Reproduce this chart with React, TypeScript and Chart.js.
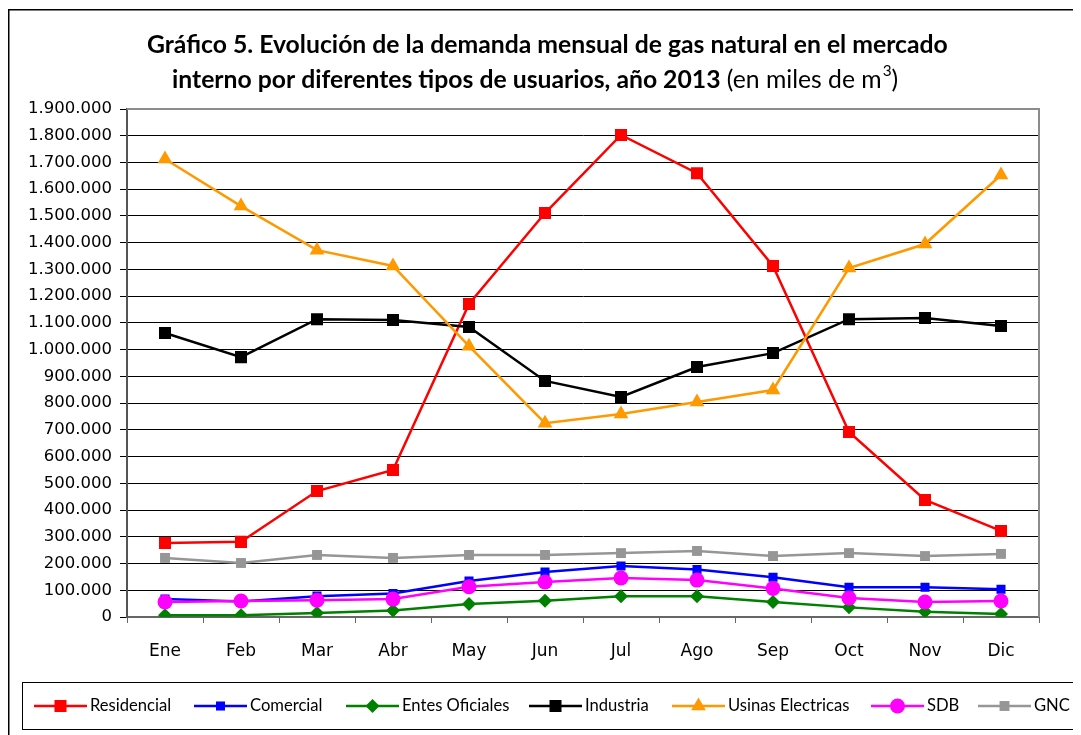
import React, { useEffect, useRef } from "react";
import { Chart, registerables } from "chart.js";

Chart.register(...registerables);

const months = ["Ene", "Feb", "Mar", "Abr", "May", "Jun", "Jul", "Ago", "Sep", "Oct", "Nov", "Dic"];

const residencial = [277000, 281000, 471000, 550000, 1171000, 1511000, 1803000, 1660000, 1313000, 692000, 438000, 322000];
const comercial = [67000, 58000, 78000, 88000, 135000, 168000, 191000, 178000, 149000, 111000, 111000, 104000];
const entesOficiales = [7000, 7000, 15000, 24000, 49000, 61000, 78000, 78000, 56000, 36000, 20000, 11000];
const industria = [1062000, 972000, 1114000, 1111000, 1085000, 883000, 823000, 935000, 987000, 1114000, 1118000, 1088000];
const usinasElectricas = [1713000, 1537000, 1372000, 1313000, 1013000, 725000, 759000, 804000, 849000, 1305000, 1395000, 1653000];
const sdb = [56000, 60000, 63000, 67000, 113000, 131000, 146000, 138000, 107000, 71000, 56000, 60000];
const gnc = [221000, 202000, 232000, 221000, 232000, 232000, 239000, 247000, 228000, 239000, 228000, 236000];

const seriesNames = ["Residencial", "Comercial", "Entes Oficiales", "Industria", "Usinas Electricas", "SDB", "GNC"];
const seriesColors = ["#FF0000", "#0000FF", "#008000", "#000000", "#FF9900", "#FF00FF", "#969696"];
const seriesShapes = ["rect", "rect", "rectRot", "rect", "triangle", "circle", "rect"];
const seriesRadius = [8.5, 6.4, 7, 8.5, 8.5, 7.5, 7];

const titleLine1 = "Gráfico 5. Evolución de la demanda mensual de gas natural en el mercado";
const titleLine2Bold = "interno por diferentes tipos de usuarios, año 2013";
const titleLine2Normal = " (en miles de m";
const titleSup = "3";
const titleClose = ")";

const fmt = (v: number) => String(v).replace(/\B(?=(\d{3})+(?!\d))/g, ".");

// canvas offset: canvas sits at (8,8) on the page
const legendX = [34, 194, 346, 529, 672, 871, 978].map((x) => x - 8);

function drawMarker(ctx: CanvasRenderingContext2D, shape: string, r: number, x: number, y: number) {
  ctx.beginPath();
  if (shape === "rect") {
    const s = Math.SQRT1_2 * r;
    ctx.rect(x - s, y - s, 2 * s, 2 * s);
  } else if (shape === "rectRot") {
    ctx.moveTo(x, y - r);
    ctx.lineTo(x + r, y);
    ctx.lineTo(x, y + r);
    ctx.lineTo(x - r, y);
    ctx.closePath();
  } else if (shape === "triangle") {
    ctx.moveTo(x, y - r);
    ctx.lineTo(x + r * 0.866, y + r * 0.5);
    ctx.lineTo(x - r * 0.866, y + r * 0.5);
    ctx.closePath();
  } else {
    ctx.arc(x, y, r, 0, Math.PI * 2);
  }
  ctx.fill();
}

const decorPlugin = {
  id: "decor",
  beforeDatasetsDraw(chart: any) {
    const { ctx, chartArea } = chart;
    ctx.save();
    ctx.strokeStyle = "#8c8c8c";
    ctx.lineWidth = 2;
    ctx.beginPath();
    ctx.moveTo(chartArea.left, chartArea.top);
    ctx.lineTo(chartArea.right, chartArea.top);
    ctx.lineTo(chartArea.right, chartArea.bottom);
    ctx.stroke();
    ctx.restore();
  },
  afterDraw(chart: any) {
    const { ctx } = chart;
    ctx.save();
    // outer border (top & left visible)
    ctx.strokeStyle = "#000";
    ctx.lineWidth = 1.5;
    ctx.beginPath();
    ctx.moveTo(0.75, 727);
    ctx.lineTo(0.75, 1.75);
    ctx.lineTo(1073, 1.75);
    ctx.stroke();

    // title
    const fam = "Lato, 'Open Sans', sans-serif";
    ctx.fillStyle = "#000";
    ctx.textBaseline = "middle";
    ctx.textAlign = "left";
    let size = 22;
    ctx.font = `bold ${size}px ${fam}`;
    const w1 = ctx.measureText(titleLine1).width;
    size = (size * 801) / w1;
    ctx.font = `bold ${size}px ${fam}`;
    ctx.fillText(titleLine1, 147 - 8, 37);
    // line 2
    let x = 172 - 8;
    const y2 = 72;
    ctx.font = `bold ${size}px ${fam}`;
    ctx.fillText(titleLine2Bold, x, y2);
    x += ctx.measureText(titleLine2Bold).width;
    ctx.font = `${size}px ${fam}`;
    ctx.fillText(titleLine2Normal, x, y2);
    x += ctx.measureText(titleLine2Normal).width;
    ctx.font = `${size * 0.62}px ${fam}`;
    ctx.fillText(titleSup, x + 1, y2 - 9);
    x += ctx.measureText(titleSup).width + 1;
    ctx.font = `${size}px ${fam}`;
    ctx.fillText(titleClose, x, y2);

    // legend box
    ctx.strokeStyle = "#000";
    ctx.lineWidth = 1;
    ctx.strokeRect(14.5, 674.5, 1054, 47);
    ctx.font = `16.6px ${fam}`;
    const ly = 706 - 8;
    seriesNames.forEach((name, i) => {
      const lx = legendX[i];
      ctx.strokeStyle = seriesColors[i];
      ctx.lineWidth = 2.5;
      ctx.beginPath();
      ctx.moveTo(lx, ly);
      ctx.lineTo(lx + 53, ly);
      ctx.stroke();
      ctx.fillStyle = seriesColors[i];
      drawMarker(ctx, seriesShapes[i], seriesRadius[i], lx + 26.5, ly);
      ctx.fillStyle = "#000";
      ctx.textAlign = "left";
      ctx.textBaseline = "middle";
      ctx.fillText(name, lx + 56, ly);
    });
    ctx.restore();
  },
};

export default function App() {
  const ref = useRef<HTMLCanvasElement | null>(null);
  useEffect(() => {
    if (!ref.current) return;
    const allData = [residencial, comercial, entesOficiales, industria, usinasElectricas, sdb, gnc];
    const chart = new Chart(ref.current, {
      type: "line",
      data: {
        labels: months,
        datasets: allData.map((d, i) => ({
          label: seriesNames[i],
          data: d,
          borderColor: seriesColors[i],
          backgroundColor: seriesColors[i],
          borderWidth: 2.5,
          pointStyle: seriesShapes[i] as any,
          pointRadius: seriesRadius[i],
          pointBorderWidth: 0,
          pointBackgroundColor: seriesColors[i],
          tension: 0,
          order: 7 - i,
        })),
      },
      options: {
        responsive: false,
        animation: false,
        devicePixelRatio: 1,
        layout: { padding: { left: 0, top: 101, right: 42, bottom: 68 } },
        plugins: {
          legend: { display: false },
          title: { display: false },
          tooltip: { enabled: false },
        },
        scales: {
          x: {
            offset: true,
            grid: { offset: true, drawOnChartArea: false, drawTicks: true, tickLength: 6, color: "#666" },
            border: { color: "#666", width: 2 },
            ticks: { color: "#000", font: { family: "'DejaVu Sans', Verdana, sans-serif", size: 17 }, padding: 18, maxRotation: 0 },
            afterFit: (s: any) => { s.height = 50; },
          },
          y: {
            min: 0,
            max: 1900000,
            grid: { color: "#000", lineWidth: 1, drawTicks: true, tickLength: 7 },
            border: { color: "#555", width: 2 },
            ticks: {
              stepSize: 100000,
              color: "#000",
              padding: 8,
              font: { family: "'DejaVu Sans', Verdana, sans-serif", size: 16.5 },
              callback: (v: any) => fmt(Number(v)),
            },
            afterFit: (s: any) => { s.width = 119; },
          },
        },
      },
      plugins: [decorPlugin],
    });
    return () => chart.destroy();
  }, []);
  return <canvas ref={ref} width={1073} height={727} style={{ display: "block" }} />;
}
